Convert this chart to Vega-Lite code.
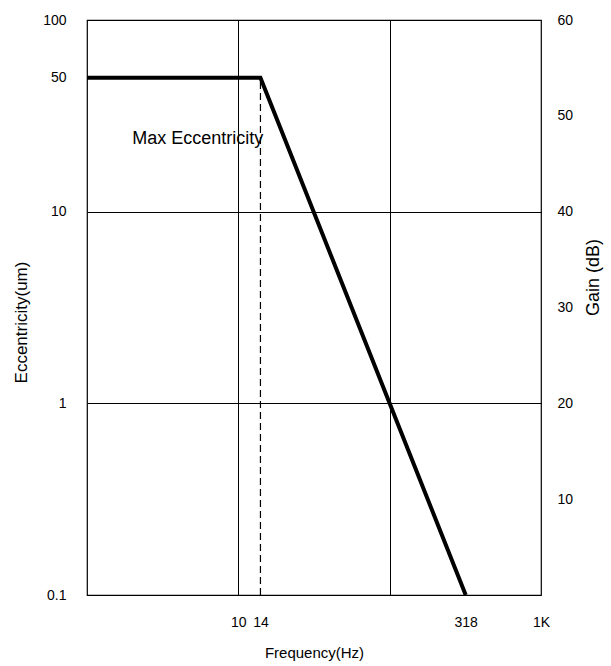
{
  "$schema": "https://vega.github.io/schema/vega-lite/v6.json",
  "width": 454,
  "height": 575,
  "autosize": "none",
  "padding": {"left": 87, "top": 20, "right": 70, "bottom": 71},
  "background": "white",
  "config": {
    "font": "Liberation Sans",
    "view": {"stroke": "black", "strokeWidth": 1.2},
    "axis": {
      "labelFont": "Liberation Sans",
      "titleFont": "Liberation Sans",
      "labelFontSize": 14,
      "titleFontSize": 15,
      "titleFontWeight": "normal",
      "labelColor": "black",
      "titleColor": "black",
      "ticks": false,
      "domain": false
    }
  },
  "datasets": {
    "curve": [
      {"f": 1, "e": 50},
      {"f": 14, "e": 50},
      {"f": 318, "e": 0.1}
    ],
    "cutoff": [
      {"f": 14, "e": 0.1, "e2": 50}
    ],
    "note": [
      {"f": 5.4, "e": 24, "label": "Max Eccentricity"}
    ],
    "gain": [
      {"g": 0},
      {"g": 60}
    ]
  },
  "layer": [
    {
      "encoding": {
        "x": {
          "field": "f",
          "type": "quantitative",
          "scale": {"type": "log", "domain": [1, 1000], "nice": false},
          "axis": {
            "values": [10, 14, 100, 318, 1000],
            "labelExpr": "datum.value==1000?'1K':datum.value==100?'':format(datum.value,'d')",
            "grid": true,
            "gridColor": "black",
            "gridWidth": 1,
            "gridOpacity": {"condition": {"test": "datum.value==10||datum.value==100", "value": 1}, "value": 0},
            "labelPadding": 20,
            "labelOverlap": false,
            "labelFlush": false,
            "title": "Frequency(Hz)",
            "titlePadding": 16
          }
        },
        "y": {
          "field": "e",
          "type": "quantitative",
          "scale": {"type": "log", "domain": [0.1, 100], "nice": false},
          "axis": {
            "values": [0.1, 1, 10, 50, 100],
            "labelExpr": "datum.value==0.1?'0.1':format(datum.value,'d')",
            "grid": true,
            "gridColor": "black",
            "gridWidth": 1,
            "gridOpacity": {"condition": {"test": "datum.value==1||datum.value==10", "value": 1}, "value": 0},
            "labelPadding": 21,
            "labelOverlap": false,
            "labelFlush": false,
            "title": "Eccentricity(um)",
            "titleFontSize": 17,
            "titleY": 302,
            "titlePadding": 12
          }
        }
      },
      "layer": [
        {
          "data": {"name": "curve"},
          "mark": {"type": "line", "color": "black", "strokeWidth": 4, "clip": true}
        },
        {
          "data": {"name": "cutoff"},
          "mark": {"type": "rule", "color": "black", "strokeWidth": 1.2, "strokeDash": [7, 4]},
          "encoding": {
            "y2": {"field": "e2"}
          }
        },
        {
          "data": {"name": "note"},
          "mark": {"type": "text", "color": "black", "fontSize": 18, "font": "Liberation Sans", "align": "center", "baseline": "middle"},
          "encoding": {
            "text": {"field": "label"}
          }
        }
      ]
    },
    {
      "data": {"name": "gain"},
      "mark": {"type": "point", "opacity": 0},
      "encoding": {
        "y": {
          "field": "g",
          "type": "quantitative",
          "scale": {"domain": [0, 60], "nice": false},
          "axis": {
            "orient": "right",
            "values": [10, 20, 30, 40, 50, 60],
            "grid": false,
            "labelPadding": 16,
            "labelFlush": false,
            "title": "Gain (dB)",
            "titleFontSize": 18,
            "titleAngle": 270,
            "titleX": 52,
            "titleY": 257,
            "titleAlign": "center",
            "titleBaseline": "middle"
          }
        }
      }
    }
  ],
  "resolve": {"scale": {"y": "independent"}}
}
